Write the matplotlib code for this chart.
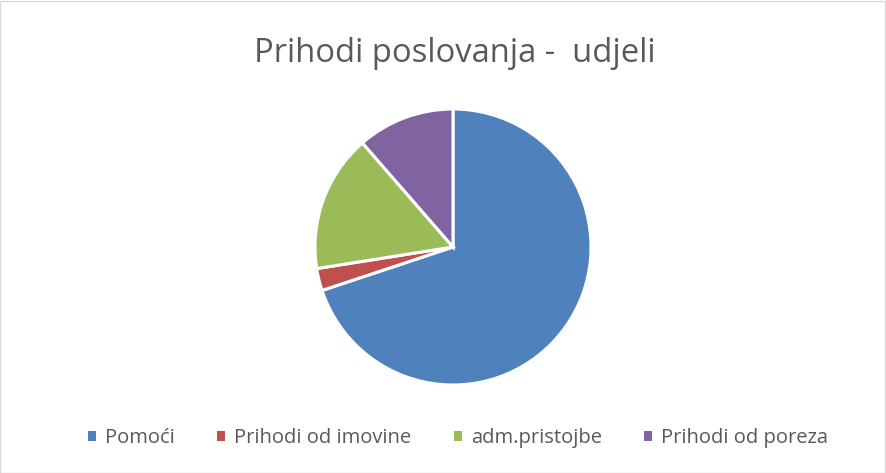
import matplotlib
matplotlib.use("Agg")
import matplotlib.pyplot as plt
from matplotlib.patches import Rectangle, Patch

categories = ["Pomoći", "Prihodi od imovine", "adm.pristojbe", "Prihodi od poreza"]
values = [69.9, 2.6, 16.1, 11.4]
colors = ["#4F81BD", "#C0504D", "#9BBB59", "#8064A2"]
title = "Prihodi poslovanja -  udjeli"

W, H = 887, 473
fig = plt.figure(figsize=(W / 100, H / 100), dpi=100)
fig.patches.append(Rectangle((0.5 / W, 0.5 / H), 1 - 2 / W, 1 - 2 / H, transform=fig.transFigure,
                             fill=False, edgecolor="#D9D9D9", linewidth=1))

cx, cy, r = 453, 247, 138
ax = fig.add_axes([(cx - r) / W, (H - cy - r) / H, 2 * r / W, 2 * r / H])
ax.pie(values, colors=colors, startangle=90, counterclock=False,
       wedgeprops=dict(edgecolor="white", linewidth=2.2))
ax.set_xlim(-1, 1)
ax.set_ylim(-1, 1)
ax.set_aspect("auto")
ax.axis("off")

fig.text(455 / W, 1 - 53 / H, title, ha="center", va="center", fontsize=23.6,
         color="#595959", family="Open Sans")

handles = [Patch(facecolor=c, edgecolor="none") for c in colors]
leg = fig.legend(handles, categories, loc="center", bbox_to_anchor=(458 / W, 1 - 438 / H),
                 ncol=4, frameon=False, handlelength=0.4, handleheight=0.4,
                 handletextpad=0.45, columnspacing=2.1, prop=dict(family="Open Sans", size=14.5))
for t in leg.get_texts():
    t.set_color("#595959")

fig.savefig("out.png", dpi=100)
